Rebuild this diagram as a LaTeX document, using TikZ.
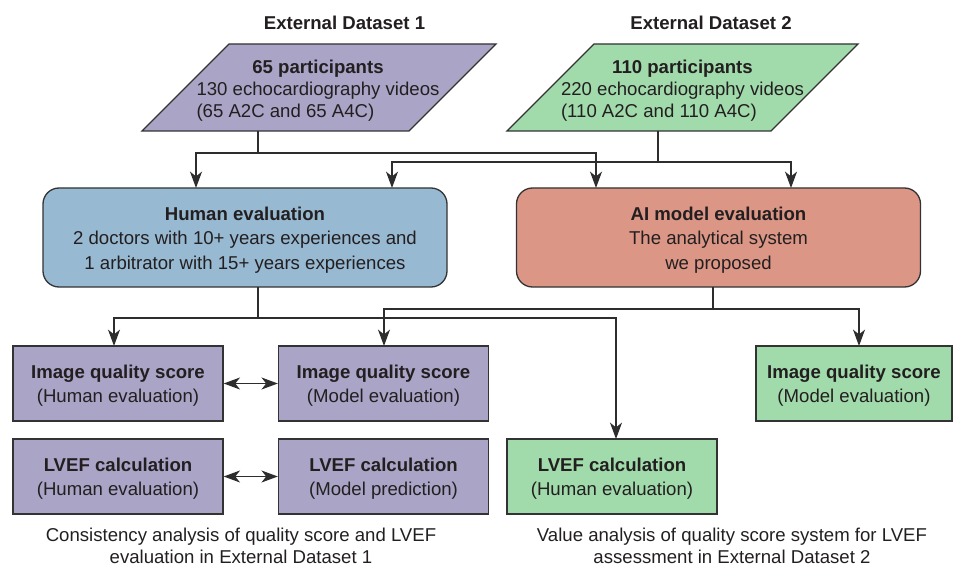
\documentclass[tikz,border=0pt]{standalone}
\usepackage{fontspec}
\setmainfont{Liberation Sans}
\usetikzlibrary{arrows.meta}
\definecolor{pur}{RGB}{170,164,198}
\definecolor{grn}{RGB}{161,219,171}
\definecolor{blu}{RGB}{151,185,210}
\definecolor{sal}{RGB}{219,150,134}
\definecolor{edgec}{RGB}{51,51,51}
\definecolor{linec}{RGB}{45,45,45}
\definecolor{txt}{RGB}{35,31,32}
\newcommand{\tstrut}{\rule{0pt}{9pt}}
\begin{document}
\begin{tikzpicture}[x=0.5pt,y=-0.5pt,
  every node/.style={font=\fontsize{9.3}{11}\selectfont, text=txt, inner sep=0pt},
  pshape/.style={draw=edgec, line width=0.65pt},
  bigbox/.style={draw=edgec, line width=0.65pt, rounded corners=8pt, minimum width=202pt, minimum height=49.5pt, align=center, font=\fontsize{9.3}{12.25}\selectfont},
  smallbox/.style={draw=edgec, line width=0.65pt, minimum width=105pt, minimum height=37.5pt, align=center, font=\fontsize{9.3}{12}\selectfont},
  hdr/.style={font=\fontsize{9.3}{11}\selectfont\bfseries},
  captext/.style={align=center, font=\fontsize{9.3}{11}\selectfont},
  conn/.style={draw=linec, line width=0.75pt},
  tip/.tip={Stealth[length=8.2pt,width=6pt,inset=2.4pt]},
  arr/.style={conn, -tip},
  darr/.style={conn, tip-tip}
]
\useasboundingbox (0,0) rectangle (954,567);

% headers
\node[hdr] (h1) at (344.5,23) {External Dataset 1};
\node[hdr] (h2) at (711,23) {External Dataset 2};

% parallelograms
\filldraw[pshape, fill=pur] (142,131) -- (229,44) -- (496,44) -- (409,131) -- cycle;
\node (p1) at (318,91) {\begin{tabular}{@{}l@{}}\multicolumn{1}{@{}c@{}}{\textbf{65 participants}}\\130 echocardiography videos\\(65 A2C and 65 A4C)\end{tabular}};
\filldraw[pshape, fill=grn] (507,131) -- (594,44) -- (858,44) -- (771,131) -- cycle;
\node (p2) at (682.5,91) {\begin{tabular}{@{}l@{}}\multicolumn{1}{@{}c@{}}{\textbf{110 participants}}\\220 echocardiography videos\\(110 A2C and 110 A4C)\end{tabular}};

% evaluation boxes
\node[bigbox, fill=blu] (hum) at (245,237.5) {\tstrut\textbf{Human evaluation}\\2 doctors with 10+ years experiences and\\1 arbitrator with 15+ years experiences};
\node[bigbox, fill=sal] (ai) at (718.5,237.5) {\tstrut\textbf{AI model evaluation}\\The analytical system\\we proposed};

% result boxes
\node[smallbox, fill=pur] (iqh) at (118,383.5) {\tstrut\textbf{Image quality score}\\(Human evaluation)};
\node[smallbox, fill=pur] (iqm) at (383.5,383.5) {\tstrut\textbf{Image quality score}\\(Model evaluation)};
\node[smallbox, fill=pur] (lvh) at (118,476.5) {\tstrut\textbf{LVEF calculation}\\(Human evaluation)};
\node[smallbox, fill=pur] (lvm) at (383.5,476.5) {\tstrut\textbf{LVEF calculation}\\(Model prediction)};
\node[smallbox, fill=grn] (lvg) at (612,476.5) {\tstrut\textbf{LVEF calculation}\\(Human evaluation)};
\node[smallbox, fill=grn, minimum width=98pt] (iqg) at (854,383.5) {\tstrut\textbf{Image quality score}\\(Model evaluation)};

% captions
\node[captext] (c1) at (241,546) {Consistency analysis of quality score and LVEF\\evaluation in External Dataset 1};
\node[captext] (c2) at (732,546) {Value analysis of quality score system for LVEF\\assessment in External Dataset 2};

% connector coordinates
\coordinate (p1out) at (258,131);
\coordinate (p2out) at (658,131);
\coordinate (j1) at (258,153);
\coordinate (j2) at (658,162);
\coordinate (a1) at (196,188);
\coordinate (a2) at (392,188);
\coordinate (a3) at (596,188);
\coordinate (a4) at (791,188);
\coordinate (hout) at (258,287);
\coordinate (aout) at (713,287);
\coordinate (j3) at (258,318);
\coordinate (j4) at (713,309);
\coordinate (b1) at (114,346);
\coordinate (b2) at (384,346);
\coordinate (b3) at (616,439);
\coordinate (b4) at (859,346);

% connectors
\draw[arr] (p1out) -- (j1) -| (a1);
\draw[arr] (j1) -| (a3);
\draw[arr] (p2out) -- (j2) -| (a2);
\draw[arr] (j2) -| (a4);
\draw[arr] (hout) -- (j3) -| (b1);
\draw[arr] (j3) -| (b3);
\draw[arr] (aout) -- (j4) -| (b2);
\draw[arr] (j4) -| (b4);
\draw[darr] (iqh) -- (iqm);
\draw[darr] (lvh) -- (lvm);
\end{tikzpicture}
\end{document}
